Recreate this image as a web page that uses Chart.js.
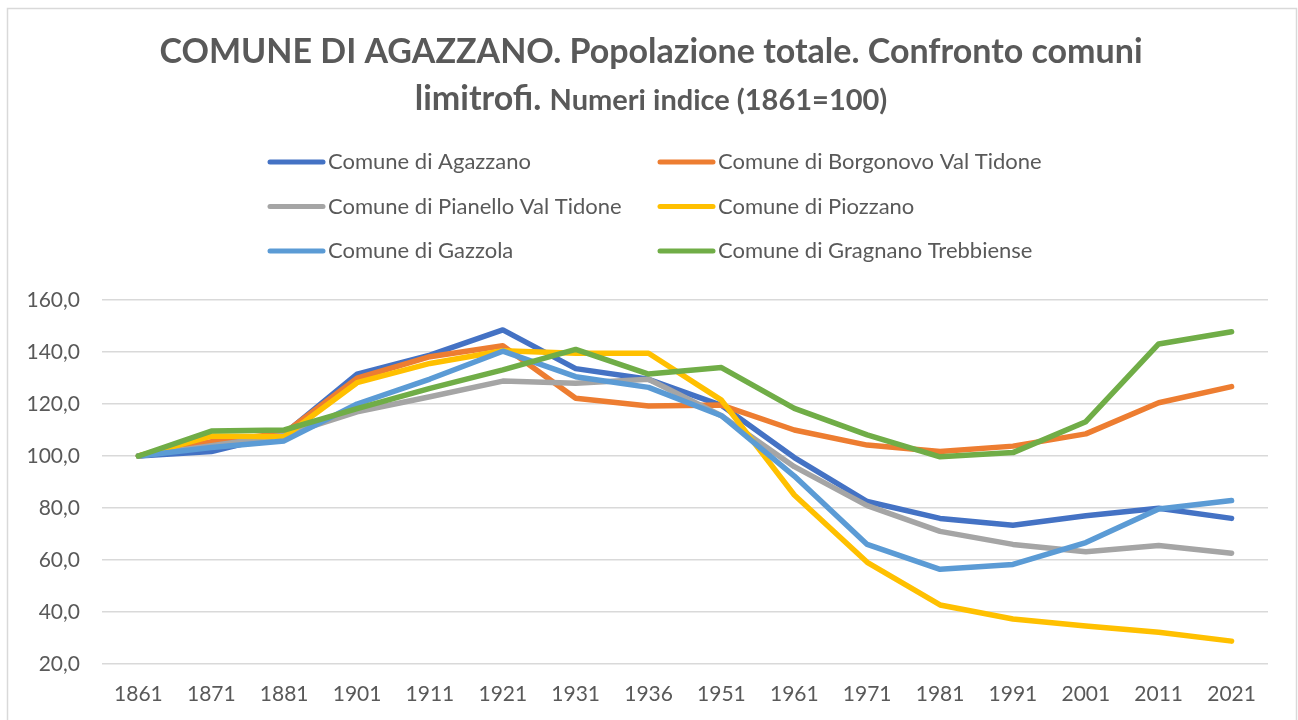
<!DOCTYPE html>
<html>
<head>
<meta charset="utf-8">
<script src="https://cdn.jsdelivr.net/npm/chart.js@4.4.1/dist/chart.umd.min.js"></script>
<style>
  html, body { margin: 0; padding: 0; background: #ffffff; }
  #wrap { position: relative; width: 1298px; height: 720px; }
</style>
</head>
<body>
<div id="wrap"><canvas id="c" width="1298" height="720"></canvas></div>
<script>
const years = ['1861','1871','1881','1901','1911','1921','1931','1936','1951','1961','1971','1981','1991','2001','2011','2021'];
const agazzano  = [100, 101.7, 108.5, 131.5, 138.8, 148.5, 133.6, 129.5, 119.5, 99.4, 82.5, 76.0, 73.4, 77.0, 79.9, 76.0];
const borgonovo = [100, 105.5, 108.8, 129.9, 138.2, 142.4, 122.2, 119.2, 119.6, 110.0, 104.2, 101.7, 103.8, 108.5, 120.5, 126.7];
const pianello  = [100, 104.0, 108.0, 117.0, 122.8, 128.8, 128.0, 129.5, 115.5, 95.9, 80.9, 71.0, 66.0, 63.2, 65.6, 62.6];
const piozzano  = [100, 107.7, 107.4, 128.2, 135.6, 140.5, 139.5, 139.5, 121.5, 85.0, 59.1, 42.7, 37.3, 34.6, 32.2, 28.8];
const gazzola   = [100, 103.3, 105.8, 120.0, 129.6, 140.3, 130.5, 126.4, 115.5, 92.3, 66.0, 56.4, 58.3, 66.7, 79.6, 82.9];
const gragnano  = [100, 109.6, 110.0, 118.2, 126.0, 133.1, 141.0, 131.5, 134.0, 118.3, 108.1, 99.7, 101.3, 113.2, 143.1, 147.8];
const seriesNames = ['Comune di Agazzano','Comune di Borgonovo Val Tidone','Comune di Pianello Val Tidone','Comune di Piozzano','Comune di Gazzola','Comune di Gragnano Trebbiense'];
const seriesValues = [agazzano, borgonovo, pianello, piozzano, gazzola, gragnano];
const seriesColors = ['#4472C4','#ED7D31','#A5A5A5','#FFC000','#5B9BD5','#70AD47'];
const titleLine1 = 'COMUNE DI AGAZZANO. Popolazione totale. Confronto comuni';
const titleLine2a = 'limitrofi. ';
const titleLine2b = 'Numeri indice (1861=100)';
const yMin = 20, yMax = 160, yStep = 20;

const TEXT = '#595959';
const FONT = 'Lato';

const decorPlugin = {
  id: 'decor',
  beforeDraw(chart) {
    const ctx = chart.ctx;
    ctx.save();
    ctx.fillStyle = '#ffffff';
    ctx.fillRect(0, 0, chart.width, chart.height);
    ctx.strokeStyle = '#D9D9D9';
    ctx.lineWidth = 1.5;
    ctx.beginPath();
    ctx.moveTo(7.5, 730);
    ctx.lineTo(7.5, 8.5);
    ctx.lineTo(1296.5, 8.5);
    ctx.lineTo(1296.5, 730);
    ctx.stroke();
    ctx.restore();
  },
  afterDraw(chart) {
    const ctx = chart.ctx;
    ctx.save();
    ctx.fillStyle = TEXT;
    ctx.textBaseline = 'middle';
    // title
    ctx.font = 'bold 34px ' + FONT;
    ctx.textAlign = 'center';
    ctx.fillText(titleLine1, 651, 52);
    ctx.textAlign = 'left';
    const fA = 'bold 34px ' + FONT, fB = 'bold 29px ' + FONT;
    ctx.font = fA; const wA = ctx.measureText(titleLine2a).width;
    ctx.font = fB; const wB = ctx.measureText(titleLine2b).width;
    const x0 = 651 - (wA + wB) / 2;
    ctx.font = fA; ctx.fillText(titleLine2a, x0, 99);
    ctx.font = fB; ctx.fillText(titleLine2b, x0 + wA, 101);
    // legend
    const colX = [268, 658];
    const rowY = [162, 206.5, 251];
    ctx.font = '22px ' + FONT;
    chart.data.datasets.forEach((ds, i) => {
      const x = colX[i % 2], y = rowY[Math.floor(i / 2)];
      ctx.strokeStyle = ds.borderColor;
      ctx.lineWidth = 5;
      ctx.lineCap = 'round';
      ctx.beginPath();
      ctx.moveTo(x + 2, y);
      ctx.lineTo(x + 55, y);
      ctx.stroke();
      ctx.fillStyle = TEXT;
      ctx.fillText(ds.label, x + 60, y);
    });
    ctx.restore();
  }
};

const datasets = seriesNames.map((name, i) => ({
  label: name,
  data: seriesValues[i],
  borderColor: seriesColors[i],
  backgroundColor: seriesColors[i],
  borderWidth: 5.5,
  borderCapStyle: 'round',
  borderJoinStyle: 'round',
  pointRadius: 0,
  tension: 0,
  order: seriesNames.length - i
}));

new Chart(document.getElementById('c'), {
  type: 'line',
  data: { labels: years, datasets },
  plugins: [decorPlugin],
  options: {
    responsive: false,
    animation: false,
    layout: { padding: { top: 300, right: 30, bottom: 0, left: 0 } },
    plugins: { legend: { display: false }, title: { display: false }, tooltip: { enabled: false } },
    scales: {
      x: {
        offset: true,
        grid: { display: false, drawTicks: false },
        border: { display: false },
        ticks: { color: TEXT, font: { family: FONT, size: 21 }, padding: 18, maxRotation: 0, autoSkip: false },
        afterFit(axis) { axis.height = 56; }
      },
      y: {
        min: yMin, max: yMax,
        grid: { color: '#D9D9D9', lineWidth: 1.5, drawTicks: false },
        border: { display: false },
        ticks: {
          stepSize: yStep, color: TEXT, font: { family: FONT, size: 21 }, padding: 22,
          callback: v => v.toFixed(1).replace('.', ',')
        },
        afterFit(axis) { axis.width = 102; }
      }
    }
  }
});
</script>
</body>
</html>
